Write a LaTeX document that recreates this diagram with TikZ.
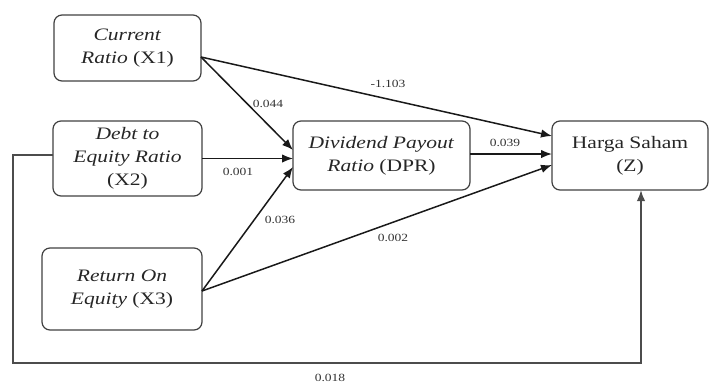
\documentclass[tikz,border=0pt]{standalone}
\usepackage{fontspec}
\setmainfont[FakeStretch=1.23]{Liberation Serif}
\usetikzlibrary{arrows.meta}
\begin{document}
\begin{tikzpicture}[x=1pt,y=-1pt,
  box/.style={draw=black!75,line width=1.2pt,rounded corners=8pt,align=center,inner sep=0pt,outer sep=0pt,text=black!85,font=\fontsize{17.5}{23}\selectfont},
  conn/.style={draw=black!90,line width=1.5pt,-{Latex[length=11pt,width=8.5pt]}},
  lbl/.style={font=\fontsize{11}{12}\selectfont,text=black!80,inner sep=1pt}]
\useasboundingbox (0,0) rectangle (710,384);
\node[box,minimum width=147pt,minimum height=66pt] (x1) at (127.5,48) {\textit{Current}\\\textit{Ratio} (X1)};
\node[box,minimum width=149pt,minimum height=75pt] (x2) at (127.5,158.5) {\textit{Debt to}\\\textit{Equity Ratio}\\(X2)};
\node[box,minimum width=160pt,minimum height=82pt] (x3) at (122,289) {\textit{Return On}\\\textit{Equity} (X3)};
\node[box,minimum width=177pt,minimum height=69pt] (dpr) at (381.5,155.5) {\textit{Dividend Payout}\\\textit{Ratio} (DPR)};
\node[box,minimum width=156pt,minimum height=69pt] (z) at (630,155.5) {Harga Saham\\(Z)};
\coordinate (lb) at (13,363);
\draw[conn] ([yshift=-9pt]x1.east) -- ([yshift=19.5pt]z.west);
\draw[conn] ([yshift=-9pt]x1.east) -- ([yshift=5.5pt]dpr.west);
\draw[conn] (x2.east) -- ([yshift=-3pt]dpr.west);
\draw[conn] ([yshift=-2pt]x3.east) -- ([yshift=-11.5pt]dpr.west);
\draw[conn] ([yshift=1.5pt]dpr.east) -- ([yshift=1.5pt]z.west);
\draw[conn] ([yshift=-2pt]x3.east) -- ([yshift=-9.5pt]z.west);
\draw[conn,line width=1.8pt,draw=black!70] ([yshift=3.5pt]x2.west) -| (lb) -| ([xshift=11pt]z.south);
\node[lbl] (l1) at (388,84) {-1.103};
\node[lbl] (l2) at (268,104) {0.044};
\node[lbl] (l3) at (238,172) {0.001};
\node[lbl] (l4) at (280,220) {0.036};
\node[lbl] (l5) at (505,143) {0.039};
\node[lbl] (l6) at (393,238) {0.002};
\node[lbl] (l7) at (330,378) {0.018};
\end{tikzpicture}
\end{document}
